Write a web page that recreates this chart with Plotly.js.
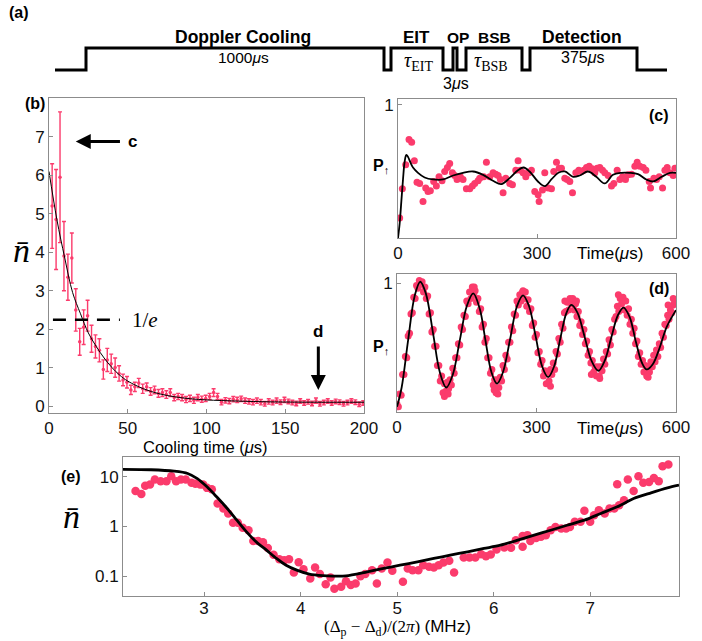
<!DOCTYPE html>
<html><head><meta charset="utf-8">
<script src="https://cdn.plot.ly/plotly-3.0.1.min.js"></script>
<style>html,body{margin:0;padding:0;background:#fff}</style>
</head><body>
<div id="chart" style="width:702px;height:641px"></div>
<script>
// ---------- Panel (a): pulse sequence (schematic time axis) ----------
const pulseEdges  = [55, 86, 384, 391, 443, 453, 457, 466, 522, 530, 637, 667];
const pulseLevels = [0, 1, 0, 1, 0, 1, 0, 1, 0, 1, 0, 0];

// ---------- Panel (b): cooling dynamics ----------
const coolT = [2, 4.5, 7, 9.5, 12, 14.5, 17, 19.5, 22, 24.5, 27, 29.5, 32, 34.5, 37, 39.5, 42, 44.5, 47, 49.5,
  52, 54.5, 57, 59.5, 62, 64.5, 67, 69.5, 72, 74.5, 77, 79.5, 82, 84.5, 87, 89.5, 92, 94.5, 97, 99.5,
  102, 104.5, 107, 109.5, 112, 114.5, 117, 119.5, 122, 124.5, 127, 129.5, 132, 134.5, 137, 139.5, 142, 144.5, 147, 149.5,
  152, 154.5, 157, 159.5, 162, 164.5, 167, 169.5, 172, 174.5, 177, 179.5, 182, 184.5, 187, 189.5, 192, 194.5, 197, 199.5];
const coolN = [5.2, 4.85, 5.95, 3.9, 3.35, 3.85, 2.5, 1.67, 2.05, 2.35,
  1.75, 1.55, 1.45, 0.95, 1.2, 1.1, 1.0, 0.85, 0.68, 0.62,
  0.42, 0.5, 0.6, 0.45, 0.5, 0.38, 0.42, 0.33, 0.35, 0.3,
  0.35, 0.22, 0.25, 0.22, 0.17, 0.2, 0.15, 0.22, 0.18, 0.2,
  0.25, 0.35, 0.25, 0.1, 0.15, 0.13, 0.18, 0.16, 0.19, 0.14,
  0.12, 0.1, 0.14, 0.1, 0.06, 0.12, 0.09, 0.14, 0.1, 0.16,
  0.12, 0.09, 0.07, 0.13, 0.08, 0.11, 0.07, 0.14, 0.06, 0.09,
  0.13, 0.08, 0.12, 0.1, 0.06, 0.09, 0.13, 0.1, 0.05, 0.08];
const coolErr = [1.1, 1.3, 1.7, 0.9, 0.6, 0.65, 0.55, 0.35, 0.45, 0.4,
  0.35, 0.3, 0.3, 0.25, 0.3, 0.25, 0.25, 0.2, 0.15, 0.15,
  0.12, 0.12, 0.12, 0.12, 0.1, 0.1, 0.1, 0.1, 0.1, 0.1,
  0.1, 0.08, 0.08, 0.08, 0.08, 0.08, 0.08, 0.08, 0.08, 0.08,
  0.08, 0.1, 0.08, 0.07, 0.07, 0.07, 0.07, 0.07, 0.07, 0.07,
  0.07, 0.07, 0.07, 0.07, 0.06, 0.07, 0.06, 0.07, 0.06, 0.07,
  0.06, 0.06, 0.06, 0.06, 0.06, 0.06, 0.06, 0.07, 0.06, 0.06,
  0.06, 0.06, 0.06, 0.06, 0.06, 0.06, 0.06, 0.06, 0.06, 0.06];
const coolFitT = [0, 5, 10, 15, 20, 25, 30, 35, 40, 45, 50, 60, 70, 80, 90, 100, 120, 140, 170, 200];
const coolFitN = [6.1, 4.85, 3.85, 2.95, 2.4, 1.9, 1.55, 1.25, 1.0, 0.8, 0.65, 0.45, 0.32, 0.24, 0.19, 0.16, 0.13, 0.11, 0.1, 0.1];

// ---------- Panel (c): P_up vs time, before cooling ----------
const cT = [3.6, 9.4, 16.6, 23.8, 29.5, 35.3, 41.0, 46.8, 54.0, 59.8,
  64.8, 69.8, 77.0, 82.8, 88.6, 95.0, 100.8, 106.6, 111.6, 117.4,
  122.4, 127.4, 134.6, 140.4, 147.6, 154.8, 160.6, 165.6, 172.8, 176.4,
  185.0, 190.8, 198.0, 205.2, 211.0, 216.0, 221.0, 226.8, 232.6, 241.2,
  247.0, 254.2, 259.2, 264.2, 270.0, 275.8, 282.2, 288.0, 295.2, 302.4,
  304.6, 311.8, 316.8, 324.0, 331.2, 336.2, 342.0, 347.8, 352.8, 360.0,
  365.0, 370.8, 376.6, 383.8, 390.2, 396.0, 401.0, 406.8, 412.6, 419.0,
  424.8, 429.8, 435.6, 441.4, 446.4, 453.6, 460.8, 465.8, 473.0, 478.8,
  484.6, 491.0, 496.8, 504.0, 511.2, 516.2, 522.0, 529.2, 535.0, 542.2,
  545.0, 552.2, 558.0, 563.8, 571.0, 576.0, 581.0, 586.8, 594.0, 597.6];
const cP = [0.15, 0.37, 0.55, 0.74, 0.72, 0.58, 0.42, 0.41, 0.275, 0.375,
  0.35, 0.355, 0.425, 0.39, 0.46, 0.43, 0.50, 0.53, 0.56, 0.49,
  0.47, 0.44, 0.46, 0.44, 0.37, 0.37, 0.39, 0.41, 0.43, 0.45,
  0.46, 0.57, 0.46, 0.49, 0.48, 0.47, 0.44, 0.34, 0.45, 0.41,
  0.40, 0.51, 0.58, 0.51, 0.49, 0.46, 0.49, 0.51, 0.35, 0.325,
  0.275, 0.36, 0.49, 0.375, 0.37, 0.50, 0.57, 0.525, 0.525, 0.45,
  0.44, 0.425, 0.34, 0.49, 0.51, 0.50, 0.51, 0.53, 0.54, 0.52,
  0.49, 0.525, 0.53, 0.51, 0.49, 0.47, 0.39, 0.41, 0.51, 0.44,
  0.46, 0.44, 0.475, 0.48, 0.54, 0.57, 0.54, 0.53, 0.51, 0.425,
  0.375, 0.45, 0.44, 0.46, 0.375, 0.51, 0.53, 0.49, 0.47, 0.525];
const cFitT = [0, 3.6, 7.2, 10.8, 14.4, 18, 21.6, 26.6, 32.4, 43.2, 57.6, 75.6, 97.2, 118.8, 140.4, 162, 183.6, 205, 223, 241,
  259, 271, 284, 302, 317, 331, 346, 360, 378, 392, 410, 428, 446, 464, 482, 500, 518, 536, 551, 569, 587, 600];
const cFitP = [0, 0.11, 0.275, 0.44, 0.575, 0.625, 0.61, 0.57, 0.53, 0.49, 0.455, 0.44, 0.44, 0.47, 0.49, 0.50, 0.475, 0.43, 0.405, 0.45,
  0.51, 0.53, 0.50, 0.425, 0.39, 0.44, 0.49, 0.50, 0.46, 0.47, 0.50, 0.46, 0.41, 0.475, 0.49, 0.49, 0.48, 0.44, 0.425, 0.46, 0.49, 0.49];

// ---------- Panel (d): P_up vs time, after cooling ----------
const dT = [0, 3, 6, 9, 12, 15, 18, 21, 24, 27, 30, 33, 36, 39, 42, 45, 48, 51, 54, 57,
  60, 63, 66, 69, 72, 75, 78, 81, 84, 87, 90, 93, 96, 99, 102, 105, 108, 111, 114, 117,
  120, 123, 126, 129, 132, 135, 138, 141, 144, 147, 150, 153, 156, 159, 162, 165, 168, 171, 174, 177,
  180, 183, 186, 189, 192, 195, 198, 201, 204, 207, 210, 213, 216, 219, 222, 225, 228, 231, 234, 237,
  240, 243, 246, 249, 252, 255, 258, 261, 264, 267, 270, 273, 276, 279, 282, 285, 288, 291, 294, 297,
  300, 303, 306, 309, 312, 315, 318, 321, 324, 327, 330, 333, 336, 339, 342, 345, 348, 351, 354, 357,
  360, 363, 366, 369, 372, 375, 378, 381, 384, 387, 390, 393, 396, 399, 402, 405, 408, 411, 414, 417,
  420, 423, 426, 429, 432, 435, 438, 441, 444, 447, 450, 453, 456, 459, 462, 465, 468, 471, 474, 477,
  480, 483, 486, 489, 492, 495, 498, 501, 504, 507, 510, 513, 516, 519, 522, 525, 528, 531, 534, 537,
  540, 543, 546, 549, 552, 555, 558, 561, 564, 567, 570, 573, 576, 579, 582, 585, 588, 591, 594, 597,
  102, 217, 330, 418, 476, 583, 594, 361, 386, 166, 271, 540, 436, 110, 209];
const dP = [0.06, 0.04, 0.14, 0.13, 0.29, 0.29, 0.43, 0.42, 0.59, 0.61,
  0.76, 0.77, 0.89, 0.88, 0.98, 0.96, 1.02, 0.99, 1.01, 0.93,
  0.97, 0.88, 0.90, 0.76, 0.77, 0.62, 0.64, 0.51, 0.51, 0.36,
  0.36, 0.24, 0.28, 0.15, 0.22, 0.16, 0.23, 0.18, 0.25, 0.21,
  0.34, 0.30, 0.42, 0.42, 0.53, 0.52, 0.66, 0.64, 0.75, 0.74,
  0.86, 0.84, 0.93, 0.88, 0.97, 0.91, 0.94, 0.85, 0.88, 0.78,
  0.80, 0.66, 0.68, 0.54, 0.57, 0.42, 0.42, 0.30, 0.33, 0.21,
  0.25, 0.15, 0.25, 0.19, 0.27, 0.24, 0.36, 0.33, 0.44, 0.41,
  0.54, 0.54, 0.66, 0.63, 0.76, 0.75, 0.86, 0.83, 0.91, 0.86,
  0.93, 0.88, 0.93, 0.82, 0.87, 0.78, 0.80, 0.67, 0.69, 0.58,
  0.60, 0.46, 0.47, 0.37, 0.40, 0.28, 0.32, 0.22, 0.30, 0.24,
  0.33, 0.29, 0.38, 0.33, 0.47, 0.45, 0.57, 0.54, 0.68, 0.65,
  0.77, 0.78, 0.85, 0.79, 0.88, 0.84, 0.88, 0.79, 0.84, 0.74,
  0.78, 0.67, 0.70, 0.60, 0.64, 0.53, 0.55, 0.44, 0.47, 0.38,
  0.40, 0.31, 0.35, 0.28, 0.35, 0.28, 0.35, 0.32, 0.41, 0.37,
  0.47, 0.45, 0.56, 0.52, 0.64, 0.62, 0.72, 0.74, 0.82, 0.78,
  0.88, 0.84, 0.89, 0.79, 0.86, 0.75, 0.80, 0.68, 0.72, 0.61,
  0.65, 0.53, 0.55, 0.43, 0.46, 0.37, 0.40, 0.31, 0.36, 0.28,
  0.35, 0.31, 0.39, 0.35, 0.44, 0.39, 0.48, 0.43, 0.53, 0.50,
  0.61, 0.58, 0.68, 0.67, 0.75, 0.72, 0.79, 0.77, 0.83, 0.86,
  0.12, 0.14, 0.20, 0.29, 0.91, 0.83, 0.88, 0.86, 0.86, 0.97, 0.94, 0.27, 0.26, 0.14, 0.17];
const dFitT = [0, 10, 24, 38, 50, 62, 78, 92, 106, 120, 135, 150, 164, 178, 190, 203, 215, 228, 243, 258,
  271, 284, 298, 312, 325, 338, 351, 364, 375, 388, 403, 418, 433, 447, 461, 475, 487, 500, 514, 527,
  537, 550, 565, 580, 600];
const dFitP = [0.04, 0.19, 0.56, 0.90, 1.01, 0.92, 0.60, 0.31, 0.19, 0.29, 0.555, 0.82, 0.92, 0.80, 0.56, 0.31, 0.22, 0.31, 0.56, 0.82,
  0.905, 0.82, 0.59, 0.355, 0.27, 0.355, 0.565, 0.765, 0.83, 0.77, 0.59, 0.40, 0.32, 0.40, 0.58, 0.75, 0.81, 0.74, 0.54, 0.38,
  0.33, 0.37, 0.50, 0.66, 0.79];

// ---------- Panel (e): n-bar vs detuning ----------
const eDet = [2.29, 2.35, 2.39, 2.44, 2.49, 2.55, 2.61, 2.66, 2.71, 2.76, 2.81, 2.87, 2.91, 2.96, 2.99, 3.03, 3.08, 3.14, 3.20, 3.25,
  3.30, 3.35, 3.40, 3.46, 3.51, 3.56, 3.61, 3.66, 3.72, 3.78, 3.83, 3.88, 3.93, 3.98, 4.03, 4.10, 4.15, 4.20, 4.26, 4.31,
  4.35, 4.42, 4.47, 4.52, 4.57, 4.62, 4.67, 4.74, 4.79, 4.84, 4.90, 4.95, 5.06, 5.11, 5.16, 5.22, 5.27, 5.33, 5.38, 5.43,
  5.48, 5.54, 5.59, 5.69, 5.75, 5.81, 5.87, 5.92, 5.97, 6.03, 6.11, 6.18, 6.23, 6.30, 6.30, 6.35, 6.38, 6.44, 6.49, 6.54,
  6.59, 6.64, 6.70, 6.75, 6.79, 6.84, 6.90, 6.94, 7.00, 7.04, 7.09, 7.15, 7.20, 7.25, 7.28, 7.30, 7.35, 7.39, 7.45, 7.50,
  7.55, 7.61, 7.66, 7.71, 7.75, 7.81];
const eN = [5.2, 4.5, 6.6, 7.0, 8.8, 8.2, 8.2, 10.3, 8.2, 8.8, 8.8, 7.6, 7.3, 7.0, 7.0, 6.0, 5.6, 2.9, 2.3, 1.83,
  1.19, 1.19, 0.94, 0.84, 0.51, 0.51, 0.48, 0.37, 0.27, 0.22, 0.21, 0.22, 0.119, 0.19, 0.138, 0.090, 0.149, 0.110, 0.069, 0.094,
  0.056, 0.061, 0.079, 0.066, 0.071, 0.100, 0.110, 0.132, 0.071, 0.143, 0.188, 0.128, 0.077, 0.143, 0.132, 0.132, 0.166, 0.154, 0.149, 0.166,
  0.188, 0.204, 0.119, 0.238, 0.238, 0.238, 0.277, 0.253, 0.273, 0.344, 0.378, 0.372, 0.53, 0.64, 0.39, 0.67, 0.51, 0.59, 0.62, 0.67,
  0.84, 0.98, 0.91, 0.91, 0.98, 1.24, 1.24, 2.07, 1.24, 1.69, 2.13, 1.83, 2.30, 2.30, 7.1, 2.69, 3.39, 8.8, 5.2, 10.3,
  7.6, 7.9, 9.5, 8.2, 16.4, 17.7];
const eFitDet = [2.16, 2.45, 2.69, 2.83, 2.93, 3.03, 3.13, 3.24, 3.34, 3.44, 3.54, 3.65, 3.75, 3.85, 3.96, 4.09, 4.23, 4.33, 4.47, 4.69,
  4.86, 5.03, 5.21, 5.38, 5.55, 5.73, 5.90, 6.07, 6.25, 6.42, 6.59, 6.76, 6.94, 7.11, 7.28, 7.45, 7.63, 7.80, 7.92];
const eFitN = [14.2, 13.9, 13.0, 11.7, 9.2, 6.3, 3.96, 2.30, 1.34, 0.78, 0.49, 0.33, 0.227, 0.166, 0.132, 0.110, 0.102, 0.100, 0.101, 0.122,
  0.143, 0.166, 0.194, 0.227, 0.265, 0.309, 0.361, 0.421, 0.53, 0.67, 0.84, 1.06, 1.34, 1.83, 2.49, 3.66, 4.77, 6.0, 6.8];

// ---------- styling ----------
const PINK = '#FB3B6C';
const SANS = 'Liberation Sans, Arial, Helvetica, sans-serif';
const SERIF = 'Liberation Serif, Times New Roman, serif';
const W = 702, H = 641;
const fx = p => p / W, fy = p => 1 - p / H;

const axisBase = {
  showline: true, mirror: true, linecolor: '#8c8c8c', linewidth: 1,
  ticks: 'inside', ticklen: 4, tickcolor: '#8c8c8c', tickwidth: 1,
  showgrid: false, zeroline: false, fixedrange: true,
  tickfont: {family: SANS, size: 17, color: '#111'}
};
const ax = o => Object.assign({}, axisBase, o);

const traces = [
  {x: pulseEdges, y: pulseLevels, xaxis: 'x5', yaxis: 'y5', mode: 'lines',
   line: {shape: 'hv', color: '#000', width: 3}, hoverinfo: 'skip'},
  {x: coolT, y: coolN, xaxis: 'x', yaxis: 'y', mode: 'markers',
   marker: {color: PINK, size: 3.5},
   error_y: {type: 'data', array: coolErr, visible: true, color: PINK, thickness: 1.4, width: 2}},
  {x: coolFitT, y: coolFitN, xaxis: 'x', yaxis: 'y', mode: 'lines',
   line: {color: '#000', width: 1, shape: 'spline'}},
  {x: cT, y: cP, xaxis: 'x2', yaxis: 'y2', mode: 'markers', marker: {color: PINK, size: 7}},
  {x: cFitT, y: cFitP, xaxis: 'x2', yaxis: 'y2', mode: 'lines',
   line: {color: '#000', width: 1.8, shape: 'spline', smoothing: 1}},
  {x: dT, y: dP, xaxis: 'x3', yaxis: 'y3', mode: 'markers', marker: {color: PINK, size: 7}},
  {x: dFitT, y: dFitP, xaxis: 'x3', yaxis: 'y3', mode: 'lines',
   line: {color: '#000', width: 1.8, shape: 'spline', smoothing: 1}},
  {x: eDet, y: eN, xaxis: 'x4', yaxis: 'y4', mode: 'markers', marker: {color: PINK, size: 8.5}},
  {x: eFitDet, y: eFitN, xaxis: 'x4', yaxis: 'y4', mode: 'lines',
   line: {color: '#000', width: 2.8, shape: 'spline', smoothing: 0.8}}
];

function lab(text, x, y, size, opts) {
  return Object.assign({text: text, x: fx(x), y: fy(y), xref: 'paper', yref: 'paper',
    showarrow: false, xanchor: 'center', yanchor: 'middle',
    font: {family: SANS, size: size, color: '#000'}}, opts || {});
}
const oneOverE = coolFitN[0] / Math.E;

const annotations = [
  lab('<b>(a)</b>', 19, 13, 16),
  lab('<b>Doppler Cooling</b>', 243, 37, 17.5),
  lab('1000<i>μ</i>s', 243, 58, 15.5),
  lab('<b>EIT</b>', 416, 37, 17),
  lab('<b>OP</b>', 458, 37, 15.5),
  lab('<b>BSB</b>', 494, 37, 15.5),
  lab('<b>Detection</b>', 582, 37, 17.5),
  lab('<i>τ</i><sub>EIT</sub>', 418, 61, 20, {font: {family: SERIF, size: 20, color: '#000'}}),
  lab('<i>τ</i><sub>BSB</sub>', 491, 61, 20, {font: {family: SERIF, size: 20, color: '#000'}}),
  lab('3<i>μ</i>s', 456, 83, 16),
  lab('375<i>μ</i>s', 582, 58, 16),
  lab('<b>(b)</b>', 35, 104, 16),
  lab('<i>n̄</i>', 21, 250, 34, {font: {family: SERIF, size: 34, color: '#000'}}),
  lab('Cooling time (<i>μ</i>s)', 206, 447, 16.5),
  {x: 17, y: 6.88, ax: 46, ay: 6.88, xref: 'x', yref: 'y', axref: 'x', ayref: 'y',
   text: '', showarrow: true, arrowhead: 2, arrowsize: 1, arrowwidth: 3, arrowcolor: '#000'},
  {x: 53, y: 6.88, xref: 'x', yref: 'y', text: '<b>c</b>', showarrow: false,
   font: {family: SANS, size: 17, color: '#000'}},
  {x: 171, y: 0.42, ax: 171, ay: 1.59, xref: 'x', yref: 'y', axref: 'x', ayref: 'y',
   text: '', showarrow: true, arrowhead: 2, arrowsize: 1, arrowwidth: 3, arrowcolor: '#000'},
  {x: 171, y: 1.93, xref: 'x', yref: 'y', text: '<b>d</b>', showarrow: false,
   font: {family: SANS, size: 17, color: '#000'}},
  {x: 61, y: oneOverE, xref: 'x', yref: 'y', text: '1/<i>e</i>', showarrow: false,
   font: {family: SERIF, size: 21, color: '#000'}},
  lab('<b>(c)</b>', 659, 115, 16),
  lab('<b>(d)</b>', 659, 288, 16),
  lab('<b>P</b><sub>↑</sub>', 381, 166, 16),
  lab('<b>P</b><sub>↑</sub>', 381, 347, 16),
  lab('Time(<i>μ</i>s)', 610, 253, 17),
  lab('Time(<i>μ</i>s)', 610, 428, 17),
  lab('<b>(e)</b>', 71, 476, 16),
  lab('<i>n̄</i>', 71, 516, 34, {font: {family: SERIF, size: 34, color: '#000'}}),
  lab('(Δ<sub>p</sub> − Δ<sub>d</sub>)/(2<i>π</i>) <span style="font-family:Liberation Sans">(MHz)</span>', 397, 628, 17,
    {font: {family: SERIF, size: 17, color: '#000'}})
];

const layout = {
  width: W, height: H, margin: {l: 0, r: 0, t: 0, b: 0},
  paper_bgcolor: '#fff', plot_bgcolor: '#fff', showlegend: false,
  xaxis: ax({domain: [fx(49), fx(364)], range: [0, 200], tickvals: [0, 50, 100, 150, 200], anchor: 'y'}),
  yaxis: ax({domain: [fy(413), fy(98)], range: [-0.18, 8.01], tickvals: [0, 1, 2, 3, 4, 5, 6, 7], anchor: 'x'}),
  xaxis2: ax({domain: [fx(398), fx(676)], range: [0, 600], tickvals: [0, 300, 600], anchor: 'y2'}),
  yaxis2: ax({domain: [fy(238), fy(99)], range: [0, 1.045], tickvals: [1], anchor: 'x2'}),
  xaxis3: ax({domain: [fx(397), fx(676)], range: [0, 600], tickvals: [0, 300, 600], anchor: 'y3'}),
  yaxis3: ax({domain: [fy(412), fy(274)], range: [0, 1.07], tickvals: [1], anchor: 'x3'}),
  xaxis4: ax({domain: [fx(123), fx(679)], range: [2.16, 7.92], tickvals: [3, 4, 5, 6, 7], anchor: 'y4', ticklabelstandoff: -3}),
  yaxis4: ax({type: 'log', domain: [fy(596), fy(457)], range: [-1.4, 1.4], tickvals: [0.1, 1, 10], ticktext: ['0.1', '1', '10'], anchor: 'x4'}),
  xaxis5: {domain: [0, 1], range: [0, 702], visible: false, anchor: 'y5', fixedrange: true},
  yaxis5: {domain: [fy(80), fy(30)], range: [-0.4545, 1.818], visible: false, anchor: 'x5', fixedrange: true},
  shapes: [
    {type: 'line', xref: 'x', yref: 'y', x0: 2.5, x1: 45, y0: oneOverE, y1: oneOverE,
     line: {color: '#000', width: 2.5, dash: '13px,9px'}}
  ],
  annotations: annotations
};

Plotly.newPlot('chart', traces, layout, {displayModeBar: false, staticPlot: true});
</script>
</body></html>
